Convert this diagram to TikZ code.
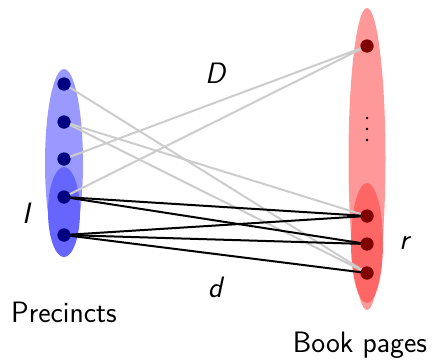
\documentclass[tikz,border=0pt]{standalone}
\usepackage{fontspec}
\begin{document}
\begin{tikzpicture}[x=1pt,y=-1pt,
  every node/.style={font=\fontsize{29.5}{32}\sffamily},
  lbl/.style={font=\fontsize{29.5}{32}\sffamily\itshape},
  pnode/.style={circle,fill=navyblue,inner sep=0pt,minimum size=13pt},
  bnode/.style={circle,fill=darkred,inner sep=0pt,minimum size=13pt},
  weak/.style={draw=lightgrey,line width=2pt},
  strong/.style={draw=black,line width=2pt}]
\definecolor{navyblue}{RGB}{0,0,128}
\definecolor{darkred}{RGB}{128,0,0}
\definecolor{lightgrey}{RGB}{204,204,204}
\definecolor{blueA}{RGB}{153,153,255}
\definecolor{blueB}{RGB}{102,102,255}
\definecolor{redA}{RGB}{255,153,153}
\definecolor{redB}{RGB}{255,102,102}
\useasboundingbox (0,0) rectangle (439,362);

% groups
\fill[blueA] (64,163) ellipse [x radius=19, y radius=94];
\fill[blueB] (64,212) ellipse [x radius=16, y radius=45];
\fill[redA] (367,159) ellipse [x radius=18.5, y radius=151];
\fill[redB] (367,243) ellipse [x radius=16, y radius=60];

% vertices
\node[pnode] (l1) at (64,84) {};
\node[pnode] (l2) at (64,122) {};
\node[pnode] (l3) at (64,159) {};
\node[pnode] (l4) at (64,197) {};
\node[pnode] (l5) at (64,235) {};
\node[bnode] (r1) at (367,46) {};
\node[bnode] (r2) at (367,216) {};
\node[bnode] (r3) at (367,244) {};
\node[bnode] (r4) at (367,273) {};

% edges
\draw[weak] (l1.center) -- (r4.center);
\draw[weak] (l2.center) -- (r2.center);
\draw[weak] (l2.center) -- (r4.center);
\draw[weak] (l3.center) -- (r1.center);
\draw[weak] (l4.center) -- (r1.center);
\draw[strong] (l4.center) -- (r2.center);
\draw[strong] (l4.center) -- (r3.center);
\draw[strong] (l5.center) -- (r2.center);
\draw[strong] (l5.center) -- (r3.center);
\draw[strong] (l5.center) -- (r4.center);

% redraw vertices on top of edges
\foreach \n/\s in {l1/pnode,l2/pnode,l3/pnode,l4/pnode,l5/pnode,r1/bnode,r2/bnode,r3/bnode,r4/bnode}
  \node[\s] at (\n.center) {};

% vertical ellipsis
\foreach \y in {118,129,140} \fill (367,\y) circle (1.4);

% labels
\node[lbl] (lI) at (26,213) {I};
\node[lbl] (lD) at (215,73) {D};
\node[lbl] (ld) at (215,287) {d};
\node[lbl] (lr) at (404,243) {r};
\node (prec) at (64,312) {Precincts};
\node (book) at (360,345) {Book pages};
\end{tikzpicture}
\end{document}
